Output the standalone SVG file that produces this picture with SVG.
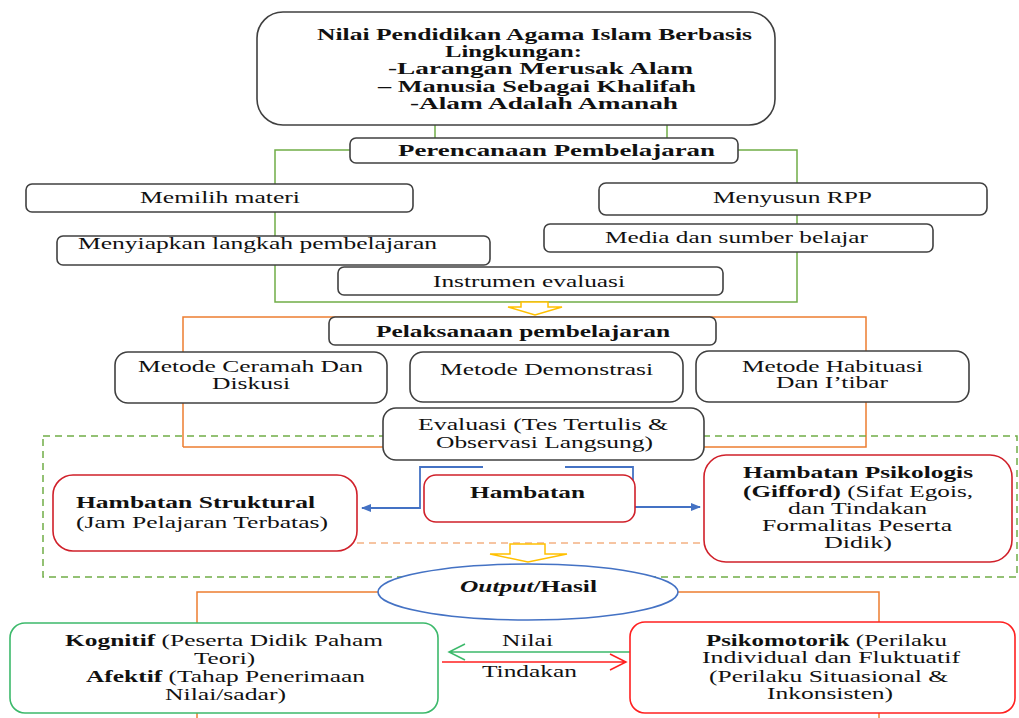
<svg xmlns="http://www.w3.org/2000/svg" width="1019" height="718" viewBox="0 0 1019 718">
<style>
text{font-family:"Liberation Serif","Times New Roman",serif;font-size:16px;fill:#111}
.b{font-weight:bold}
.box{fill:#fff;stroke:#404040;stroke-width:1.6}
.rbox{fill:#fff;stroke:#d0202a;stroke-width:1.6}
.g{fill:none;stroke:#70ad47;stroke-width:1.5}
.o{fill:none;stroke:#ed7d31;stroke-width:1.5}
.bl{fill:none;stroke:#4472c4;stroke-width:1.8}
.ya{fill:#fff;stroke:#ffc000;stroke-width:1.5}
</style>
<defs>
<marker id="ab" markerWidth="10" markerHeight="10" refX="9" refY="5" orient="auto" markerUnits="userSpaceOnUse">
<path d="M0,1 L10,5 L0,9 Z" fill="#4472c4"/>
</marker>
</defs>
<g id="connectors">
<path class="g" d="M435,125 V138 M667,125 V138 M350,150 H275 V302 H797 V150 H738"/>
<path class="o" d="M183,447 V317 H866 V447 H183"/>
<rect x="43" y="436" width="974" height="141" fill="none" stroke="#70ad47" stroke-width="1.5" stroke-dasharray="7,5"/>
<path d="M345,543 H703" fill="none" stroke="#f4b183" stroke-width="1.5" stroke-dasharray="7,5"/>
<path class="bl" d="M483,467 H420 V508 H362" marker-end="url(#ab)"/>
<path class="bl" d="M565,467 H633 V507 H700" marker-end="url(#ab)"/>
<path class="o" d="M378,592 H197 V718 M678,592 H879 V718"/>
<polygon class="ya" points="521,302 548,302 548,307 562,307 535,315 508,307 521,307"/>
<polygon class="ya" points="510,544 545,544 545,554 567,554 528,562 490,554 510,554"/>
<path d="M632,652 H449 M465,644 L449,652 L465,660" fill="none" stroke="#3cb96b" stroke-width="1.5"/>
<path d="M442,662 H626 M610,654 L626,662 L610,670" fill="none" stroke="#ff2020" stroke-width="1.5"/>
</g>
<g id="n-top">
<rect class="box" x="257" y="12" width="518" height="113" rx="26"/>
<text class="b" x="317" y="40" textLength="435" lengthAdjust="spacingAndGlyphs">Nilai Pendidikan Agama Islam Berbasis</text>
<text class="b" x="445" y="57" textLength="137" lengthAdjust="spacingAndGlyphs">Lingkungan:</text>
<text class="b" x="388" y="74" textLength="305" lengthAdjust="spacingAndGlyphs">-Larangan Merusak Alam</text>
<text class="b" x="378" y="92" textLength="318" lengthAdjust="spacingAndGlyphs">– Manusia Sebagai Khalifah</text>
<text class="b" x="410" y="109" textLength="268" lengthAdjust="spacingAndGlyphs">-Alam Adalah Amanah</text>
</g>
<g id="n-perencanaan">
<rect class="box" x="350" y="138" width="388" height="25" rx="6"/>
<text class="b" x="398" y="156" textLength="317" lengthAdjust="spacingAndGlyphs">Perencanaan Pembelajaran</text>
</g>
<g id="n-memilih">
<rect class="box" x="26" y="184" width="387" height="28" rx="6"/>
<text x="140" y="203" textLength="160" lengthAdjust="spacingAndGlyphs">Memilih materi</text>
</g>
<g id="n-menyiapkan">
<rect class="box" x="57" y="236" width="433" height="29" rx="6"/>
<text x="78" y="249" textLength="359" lengthAdjust="spacingAndGlyphs">Menyiapkan langkah pembelajaran</text>
</g>
<g id="n-instrumen">
<rect class="box" x="338" y="267" width="385" height="28" rx="6"/>
<text x="433" y="287" textLength="192" lengthAdjust="spacingAndGlyphs">Instrumen evaluasi</text>
</g>
<g id="n-rpp">
<rect class="box" x="599" y="183" width="388" height="32" rx="7"/>
<text x="713" y="203" textLength="159" lengthAdjust="spacingAndGlyphs">Menyusun RPP</text>
</g>
<g id="n-media">
<rect class="box" x="544" y="224" width="389" height="28" rx="6"/>
<text x="605" y="243" textLength="263" lengthAdjust="spacingAndGlyphs">Media dan sumber belajar</text>
</g>
<g id="n-pelaksanaan">
<rect class="box" x="329" y="317" width="387" height="28" rx="6"/>
<text class="b" x="376" y="337" textLength="294" lengthAdjust="spacingAndGlyphs">Pelaksanaan pembelajaran</text>
</g>
<g id="n-ceramah">
<rect class="box" x="115" y="352" width="272" height="51" rx="13"/>
<text x="138" y="372" textLength="225" lengthAdjust="spacingAndGlyphs">Metode Ceramah Dan</text>
<text x="212" y="389" textLength="78" lengthAdjust="spacingAndGlyphs">Diskusi</text>
</g>
<g id="n-demonstrasi">
<rect class="box" x="410" y="352" width="273" height="50" rx="13"/>
<text x="440" y="375" textLength="213" lengthAdjust="spacingAndGlyphs">Metode Demonstrasi</text>
</g>
<g id="n-habituasi">
<rect class="box" x="696" y="351" width="273" height="51" rx="13"/>
<text x="742" y="372" textLength="181" lengthAdjust="spacingAndGlyphs">Metode Habituasi</text>
<text x="776" y="388" textLength="112" lengthAdjust="spacingAndGlyphs">Dan I’tibar</text>
</g>
<g id="n-evaluasi">
<rect class="box" x="383" y="408" width="321" height="52" rx="13"/>
<text x="418" y="430" textLength="250" lengthAdjust="spacingAndGlyphs">Evaluasi (Tes Tertulis &amp;</text>
<text x="436" y="448" textLength="217" lengthAdjust="spacingAndGlyphs">Observasi Langsung)</text>
</g>
<g id="n-struktural">
<rect class="rbox" x="53" y="475" width="304" height="76" rx="20"/>
<text class="b" x="76" y="508" textLength="239" lengthAdjust="spacingAndGlyphs">Hambatan Struktural</text>
<text x="76" y="528" textLength="252" lengthAdjust="spacingAndGlyphs">(Jam Pelajaran Terbatas)</text>
</g>
<g id="n-hambatan">
<rect class="rbox" x="424" y="475" width="211" height="47" rx="12"/>
<text class="b" x="470" y="498" textLength="115" lengthAdjust="spacingAndGlyphs">Hambatan</text>
</g>
<g id="n-psikologis">
<rect class="rbox" x="704" y="455" width="308" height="107" rx="22"/>
<text class="b" x="743" y="478" textLength="230" lengthAdjust="spacingAndGlyphs">Hambatan Psikologis</text>
<text x="743" y="497" textLength="230" lengthAdjust="spacingAndGlyphs"><tspan class="b">(Gifford)</tspan> (Sifat Egois,</text>
<text x="788" y="514" textLength="139" lengthAdjust="spacingAndGlyphs">dan Tindakan</text>
<text x="762" y="531" textLength="190" lengthAdjust="spacingAndGlyphs">Formalitas Peserta</text>
<text x="824" y="548" textLength="68" lengthAdjust="spacingAndGlyphs">Didik)</text>
</g>
<g id="n-output">
<ellipse cx="528" cy="592" rx="150" ry="28" fill="#fff" stroke="#4472c4" stroke-width="1.6"/>
<text class="b" x="460" y="592" textLength="137" lengthAdjust="spacingAndGlyphs"><tspan font-style="italic">Output</tspan>/Hasil</text>
</g>
<g id="n-kognitif">
<rect x="10" y="623" width="428" height="90" rx="15" fill="#fff" stroke="#3cb96b" stroke-width="1.6"/>
<text x="65" y="646" textLength="318" lengthAdjust="spacingAndGlyphs"><tspan class="b">Kognitif</tspan> (Peserta Didik Paham</text>
<text x="194" y="664" textLength="61" lengthAdjust="spacingAndGlyphs">Teori)</text>
<text x="86" y="682" textLength="279" lengthAdjust="spacingAndGlyphs"><tspan class="b">Afektif</tspan> (Tahap Penerimaan</text>
<text x="165" y="700" textLength="121" lengthAdjust="spacingAndGlyphs">Nilai/sadar)</text>
</g>
<g id="n-psikomotorik">
<rect x="630" y="622" width="385" height="91" rx="15" fill="#fff" stroke="#ff2020" stroke-width="1.6"/>
<text x="706" y="646" textLength="241" lengthAdjust="spacingAndGlyphs"><tspan class="b">Psikomotorik</tspan> (Perilaku</text>
<text x="702" y="663" textLength="258" lengthAdjust="spacingAndGlyphs">Individual dan Fluktuatif</text>
<text x="709" y="682" textLength="239" lengthAdjust="spacingAndGlyphs">(Perilaku Situasional &amp;</text>
<text x="767" y="699" textLength="126" lengthAdjust="spacingAndGlyphs">Inkonsisten)</text>
</g>
<g id="labels">
<text x="502" y="646" textLength="51" lengthAdjust="spacingAndGlyphs">Nilai</text>
<text x="482" y="677" textLength="95" lengthAdjust="spacingAndGlyphs">Tindakan</text>
</g>
</svg>
